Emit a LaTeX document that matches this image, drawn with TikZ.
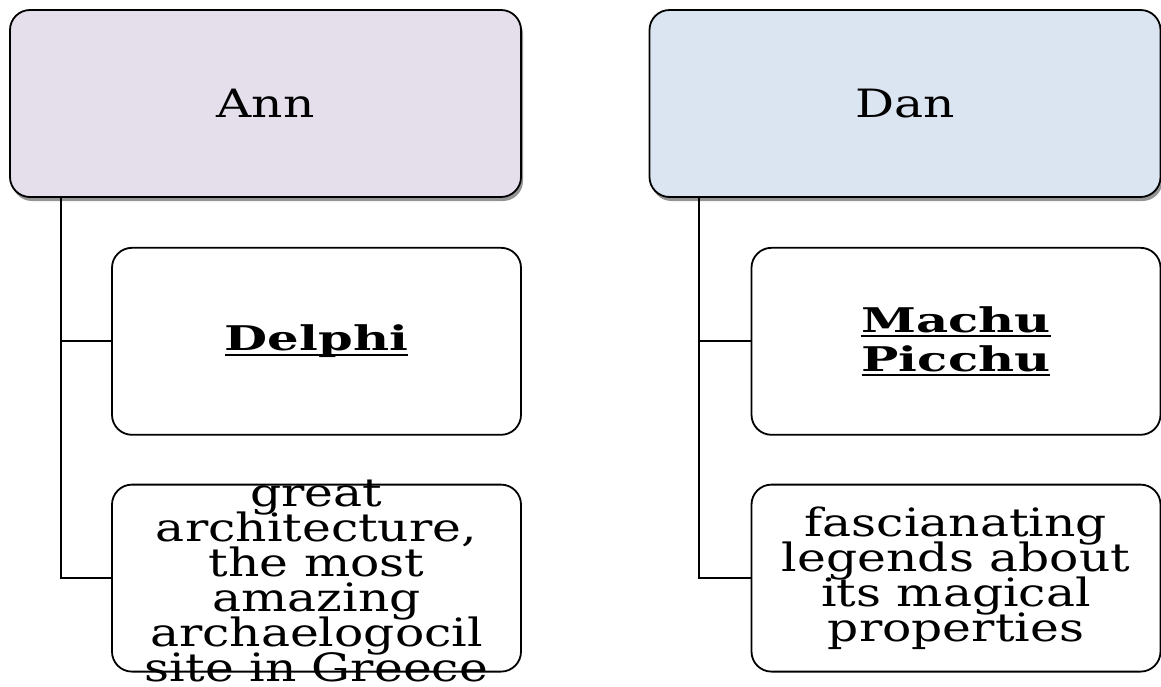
\documentclass[tikz,border=0pt]{standalone}
\usepackage{fontspec}
\setmainfont{DejaVu Serif}[FakeStretch=1.25,BoldFeatures={FakeStretch=1.46}]
\usetikzlibrary{positioning,shadows}

\definecolor{annfill}{HTML}{E5DFEC}
\definecolor{danfill}{HTML}{DBE5F1}

\newlength\ulwd
\newcommand\siteul[1]{\settowidth\ulwd{#1}\rlap{\rule[-5pt]{\ulwd}{2pt}}#1}

\tikzset{
  person/.style={draw,rounded corners=20pt,line width=1.8pt,minimum width=511pt,minimum height=187pt,
    drop shadow={shadow xshift=2pt,shadow yshift=-4pt,fill=black!42,opacity=1},font=\fontsize{39}{40}\selectfont},
  leaf/.style={draw,rounded corners=20pt,line width=1.8pt,minimum width=409pt,minimum height=187pt},
  site/.style={align=center,font={\fontsize{34}{39}\selectfont\bfseries\lineskiplimit-100pt}},
  notetext/.style={align=center,font={\fontsize{39}{35}\selectfont\lineskiplimit-100pt}},
  link/.style={line width=2pt}
}

\begin{document}
\begin{tikzpicture}[x=1pt,y=1pt]
	\useasboundingbox (0,0) rectangle (1161,-686);
	\node(ann) [person,fill=annfill] at (265.5,-103.5) {Ann};
	\node(dan) [person,fill=danfill] at (905,-103.5) {Dan};
	\node(delphi)     [leaf,below=49pt of ann.south east,anchor=north east] {};
	\node(delphinote) [leaf,below=48pt of delphi.south,anchor=north] {};
	\node(machu)      [leaf,below=49pt of dan.south east,anchor=north east] {};
	\node(machunote)  [leaf,below=48pt of machu.south,anchor=north] {};
	% texts of the boxes
	\node(delphilabel) [site] at (delphi) {\siteul{Delphi}};
	\node(delphitext)  [notetext] at ([yshift=-3pt]delphinote) {great\\architecture,\\the most\\amazing\\archaelogocil\\site in Greece};
	\node(machulabel)  [site] at (machu) {\siteul{Machu}\\\siteul{Picchu}};
	\node(machutext)   [notetext] at (machunote) {fascianating\\legends about\\its magical\\properties};
	\coordinate(annroot) at ([xshift=52pt]ann.south west);
	\coordinate(danroot) at ([xshift=50pt]dan.south west);
	\draw[link](annroot) |- (delphi.west);
	\draw[link](annroot) |- (delphinote.west);
	\draw[link](danroot) |- (machu.west);
	\draw[link](danroot) |- (machunote.west);
\end{tikzpicture}
\end{document}
